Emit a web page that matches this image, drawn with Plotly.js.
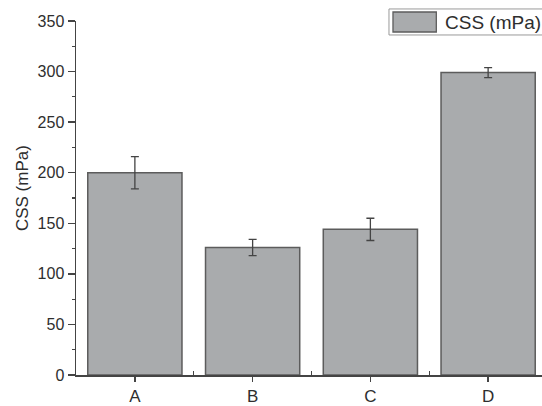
<!DOCTYPE html>
<html>
<head>
<meta charset="utf-8">
<script src="https://cdn.plot.ly/plotly-3.0.1.min.js"></script>
<style>
html, body { margin: 0; padding: 0; overflow: hidden; background: #fff; }
#chart { width: 560px; height: 406px; }
</style>
</head>
<body>
<div id="chart"></div>
<script>
const categories = ["A", "B", "C", "D"];
const cssValues = [200, 126, 144, 299];
const cssErrors = [16, 8, 11, 5];
const seriesName = "CSS (mPa)";
const yTitle = "CSS (mPa)";

const xPos = categories.map((c, i) => i);
const FONT = "Liberation Sans, Arial, sans-serif";
const TXT = "#2e2e2e";
const barFill = "#a9abad";
const barEdge = "#5c5c5c";

const trace = {
  type: "bar",
  x: xPos,
  y: cssValues,
  width: 0.8,
  name: seriesName,
  marker: { color: barFill, line: { color: barEdge, width: 1.5 } },
  error_y: { type: "data", array: cssErrors, visible: true, color: "#444", thickness: 1.3, width: 4 },
  showlegend: false
};

const layout = {
  width: 560,
  height: 406,
  margin: { l: 76, r: 13, t: 21, b: 31 },
  paper_bgcolor: "#fff",
  plot_bgcolor: "#fff",
  font: { family: FONT, color: TXT },
  xaxis: {
    range: [-0.5, 3.5],
    tickmode: "array",
    tickvals: xPos,
    ticktext: categories,
    ticks: "outside",
    ticklen: 5,
    tickwidth: 1.3,
    tickcolor: "#444",
    showline: true,
    linecolor: "#444",
    linewidth: 1.5,
    showgrid: false,
    zeroline: false,
    tickfont: { size: 17, family: FONT, color: TXT },
    minor: { tickmode: "array", tickvals: [0.5, 1.5, 2.5], ticks: "inside", ticklen: 4, tickwidth: 1.2, tickcolor: "#444" }
  },
  yaxis: {
    range: [0, 350],
    dtick: 50,
    ticks: "outside",
    ticklen: 7,
    tickwidth: 1.3,
    tickcolor: "#444",
    showline: true,
    linecolor: "#444",
    linewidth: 1.5,
    showgrid: false,
    zeroline: false,
    tickfont: { size: 16, family: FONT, color: TXT },
    minor: { dtick: 25, ticks: "outside", ticklen: 3, tickwidth: 1.2, tickcolor: "#444" }
  },
  shapes: [
    { type: "rect", xref: "paper", yref: "paper", x0: 0.6645, x1: 1.06, y0: 0.9605, y1: 1.034,
      line: { color: "#9a9a9a", width: 1 }, fillcolor: "#fff", layer: "above" },
    { type: "rect", xref: "paper", yref: "paper", x0: 0.673, x1: 0.765, y0: 0.9689, y1: 1.0254,
      line: { color: barEdge, width: 1.3 }, fillcolor: barFill, layer: "above" }
  ],
  annotations: [
    { xref: "paper", yref: "paper", x: 0.779, y: 0.997, xanchor: "left", yanchor: "middle",
      text: seriesName, showarrow: false, font: { size: 19, family: FONT, color: TXT } },
    { xref: "paper", yref: "paper", x: -0.1146, y: 0.528, xanchor: "center", yanchor: "middle",
      textangle: -90, text: yTitle, showarrow: false, font: { size: 17, family: FONT, color: TXT } }
  ]
};

Plotly.newPlot("chart", [trace], layout, { displayModeBar: false, staticPlot: true });
</script>
</body>
</html>
